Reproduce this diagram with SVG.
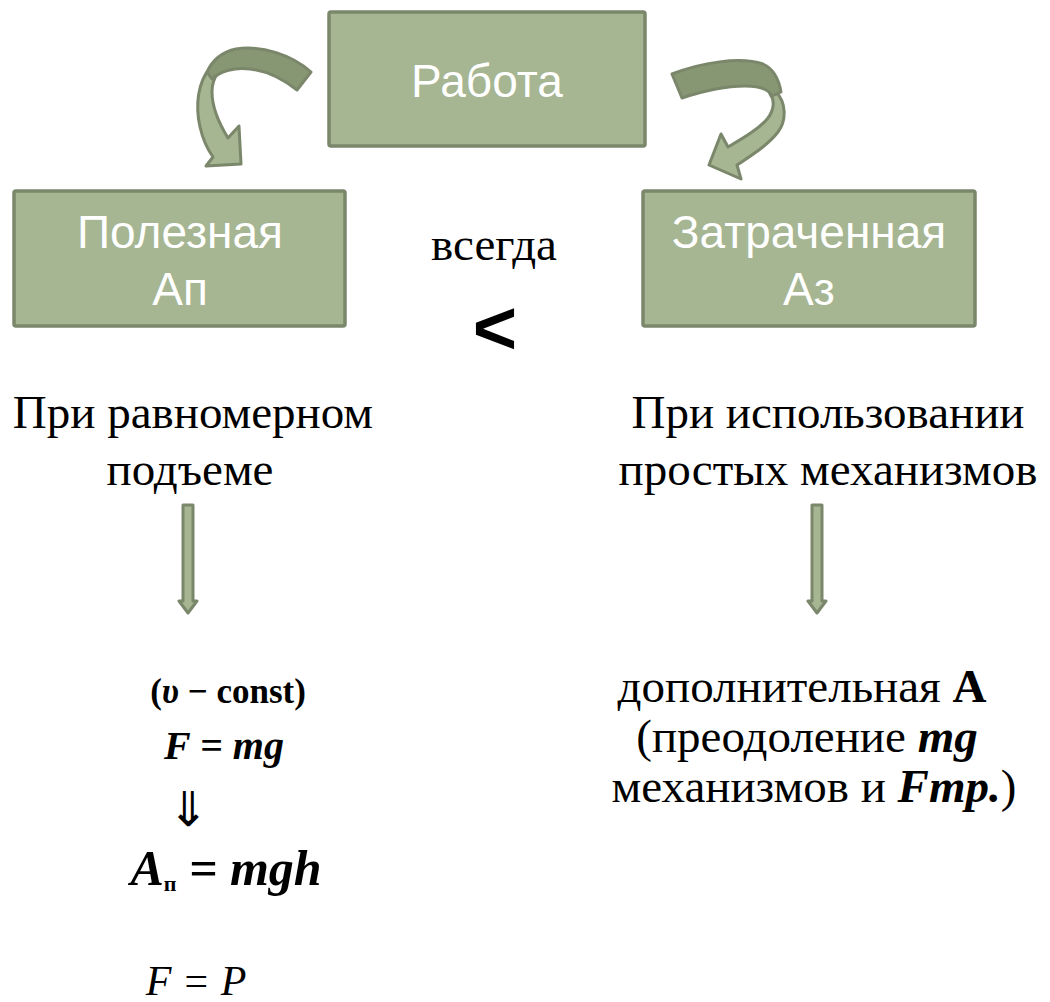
<svg xmlns="http://www.w3.org/2000/svg" width="1050" height="1002" viewBox="0 0 1050 1002">
<style>
.box{fill:#a6b592;stroke:#7b876b;stroke-width:3.5}
.bt{fill:#ffffff;font-family:"Liberation Sans",Arial,sans-serif;font-size:46px;text-anchor:middle}
.st{fill:#000;font-family:"Liberation Serif","Times New Roman",serif;font-size:47px;text-anchor:middle}
.lt{fill:#a6b592;stroke:#7b876b;stroke-width:3;stroke-linejoin:round}
.dk{fill:#879673;stroke:#7b876b;stroke-width:3;stroke-linejoin:round}
.fm{fill:#000;font-family:"Liberation Serif","Times New Roman",serif;font-weight:bold;text-anchor:middle}
</style>
<rect width="1050" height="1002" fill="#ffffff"/>
<g id="node-rabota">
<rect class="box" x="329" y="12" width="316" height="134" rx="2"/>
<text class="bt" x="487" y="97">Работа</text>
</g>
<g id="node-poleznaya">
<rect class="box" x="14" y="191" width="331" height="135" rx="2"/>
<text class="bt" x="180" y="248">Полезная</text>
<text class="bt" x="180" y="305">Ап</text>
</g>
<g id="node-zatrachennaya">
<rect class="box" x="643" y="191" width="332" height="135" rx="2"/>
<text class="bt" x="809" y="248">Затраченная</text>
<text class="bt" x="809" y="305">Аз</text>
</g>
<g id="connectors">
<path class="lt" d="M210,68 C198,82 195,105 200,127 C203,140 208,150 213,157 L206,166 L241,164 L239,126 L228,138 C220,125 212,108 212,92 C212,84 214,78 218,73 Z"/>
<path class="dk" d="M311,72 C292,55 262,45 236,49 C222,52 212,61 207,72 L212,79 C220,71 235,67 250,69 C268,71 283,79 297,90 Z"/>
<path class="lt" d="M776,92 C786,102 787,120 778,132 C768,145 752,155 737,165 L741,179 L709,165 L721,134 L728,147 C745,137 760,128 768,118 C774,110 775,100 770,94 Z"/>
<path class="dk" d="M672,74 C700,63 740,56 763,64 C774,69 779,80 781,92 L772,96 C768,88 758,86 745,86 C725,86 700,92 682,98 Z"/>
<path class="lt" d="M183,505 L193,505 L193,601 L197,601 L188,613 L179,601 L183,601 Z"/>
<path class="lt" d="M812,505 L822,505 L822,601 L826,601 L817,613 L808,601 L812,601 Z"/>
</g>
<g id="labels">
<text class="st" x="494" y="260">всегда</text>
<text x="495" y="354" font-family="Liberation Sans,Arial,sans-serif" font-size="76" font-weight="bold" text-anchor="middle">&lt;</text>
<text class="st" x="193" y="428">При равномерном</text>
<text class="st" x="190" y="485">подъеме</text>
<text class="st" x="828" y="428">При использовании</text>
<text class="st" x="828" y="485">простых механизмов</text>
<text class="st" x="802" y="702">дополнительная <tspan font-weight="bold">А</tspan></text>
<text class="st" x="807" y="752">(преодоление <tspan font-weight="bold" font-style="italic">mg</tspan></text>
<text class="st" x="814" y="802">механизмов и <tspan font-weight="bold" font-style="italic">Fmp.</tspan>)</text>
<text class="fm" x="228" y="703" font-size="35">(<tspan font-style="italic">υ</tspan> − const)</text>
<text class="fm" x="224" y="759" font-size="40" font-style="italic">F = mg</text>
<text x="188" y="826" font-family="DejaVu Sans,sans-serif" font-size="48" text-anchor="middle">⇓</text>
<text class="fm" x="226" y="885" font-size="50" font-style="italic">A<tspan font-size="22" font-style="normal" dy="6">п</tspan><tspan dy="-6"> = mgh</tspan></text>
<text x="196" y="995" font-family="Liberation Serif,serif" font-size="42" font-style="italic" text-anchor="middle">F = P</text>
</g>
</svg>
